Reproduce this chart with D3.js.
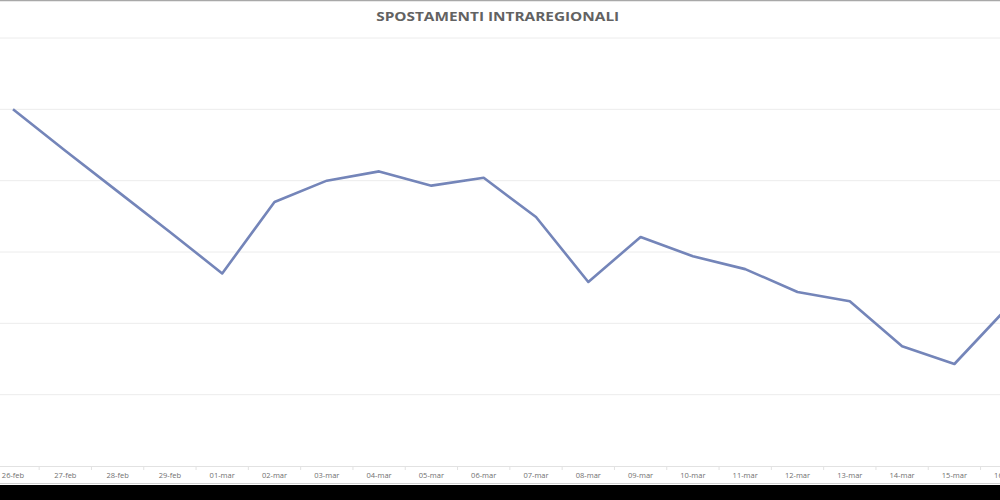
<!DOCTYPE html>
<html>
<head>
<meta charset="utf-8">
<script src="https://cdn.jsdelivr.net/npm/d3@7"></script>
<style>
  html, body { margin: 0; padding: 0; background: #fff; }
  svg { display: block; }
</style>
</head>
<body>
<svg id="chart" width="1000" height="500"></svg>
<script>
const title = "SPOSTAMENTI INTRAREGIONALI";
const categories = ["26-feb","27-feb","28-feb","29-feb","01-mar","02-mar","03-mar","04-mar","05-mar","06-mar","07-mar","08-mar","09-mar","10-mar","11-mar","12-mar","13-mar","14-mar","15-mar","16-mar"];
const values = [50.0, 44.2, 38.5, 32.8, 27.0, 37.0, 40.0, 41.3, 39.3, 40.4, 34.9, 25.8, 32.1, 29.4, 27.6, 24.4, 23.1, 16.8, 14.3, 22.1];
const yTicks = [0, 10, 20, 30, 40, 50, 60];

const svg = d3.select("#chart");
const W = 1000, H = 500;

const step = 52.3;
const x = d3.scaleBand().domain(categories).range([13 - step / 2, 13 - step / 2 + step * categories.length]).padding(0);
const y = d3.scaleLinear().domain([0, 60]).range([466, 38]);

svg.append("rect").attr("width", W).attr("height", H).attr("fill", "#fff");

// top border
svg.append("line").attr("x1", 0).attr("x2", W).attr("y1", 0.5).attr("y2", 0.5)
  .attr("stroke", "#a8a8a8").attr("stroke-width", 1.5);

// gridlines
svg.append("g").selectAll("line").data(yTicks.filter(d => d > 0)).join("line")
  .attr("x1", 0).attr("x2", W)
  .attr("y1", d => y(d)).attr("y2", d => y(d))
  .attr("stroke", "#ececec").attr("stroke-width", 1);

// x axis
const xAxis = d3.axisBottom(x).tickSize(0).tickPadding(7);
const gx = svg.append("g").attr("transform", `translate(0,${y(0)})`).call(xAxis);
gx.select(".domain").attr("stroke", "#e2e2e2").attr("d", `M0,0.5H${W}`);
gx.selectAll("text").attr("font-family", "'Open Sans', sans-serif").attr("font-size", 7.5).attr("fill", "#707070");
// tick marks between categories
svg.append("g").selectAll("line").data(categories).join("line")
  .attr("x1", d => x(d) + x.bandwidth()).attr("x2", d => x(d) + x.bandwidth())
  .attr("y1", y(0)).attr("y2", y(0) + 4)
  .attr("stroke", "#e2e2e2").attr("stroke-width", 1);

// line
const line = d3.line().x((d, i) => x(categories[i]) + x.bandwidth() / 2).y(d => y(d));
svg.append("path").datum(values).attr("d", line)
  .attr("fill", "none").attr("stroke", "#7485b9").attr("stroke-width", 2.6)
  .attr("stroke-linejoin", "round");

// title
svg.append("text").attr("x", 497.7).attr("y", 21).attr("text-anchor", "middle")
  .attr("font-family", "'Open Sans', sans-serif").attr("font-weight", 700)
  .attr("font-size", 13).attr("fill", "#626262")
  .attr("textLength", 243).attr("lengthAdjust", "spacingAndGlyphs")
  .text(title);

// bottom bars
svg.append("line").attr("x1", 0).attr("x2", W).attr("y1", 483.5).attr("y2", 483.5)
  .attr("stroke", "#d0d0d0").attr("stroke-width", 1);
svg.append("rect").attr("x", 0).attr("y", 485).attr("width", W).attr("height", 15).attr("fill", "#000");
</script>
</body>
</html>
